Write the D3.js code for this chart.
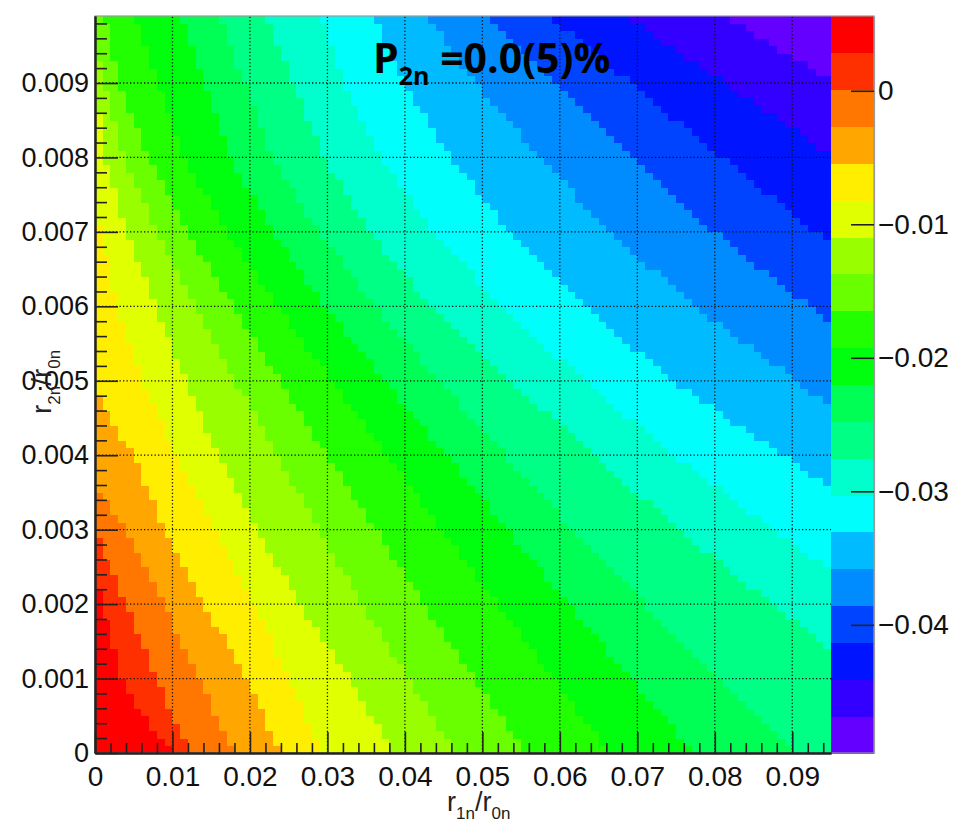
<!DOCTYPE html>
<html>
<head>
<meta charset="utf-8">
<script src="https://cdn.jsdelivr.net/npm/d3@7"></script>
<style>
body { margin: 0; background: #fff; }
svg { display: block; font-family: "Liberation Sans", Arial, sans-serif; }
</style>
</head>
<body>
<svg id="chart" width="955" height="822"></svg>
<script>

// palette range (z) and number of contours, as on the colour bar
var zMin = -0.0496, zMax = 0.0056, nContours = 20;

// histogram binning (r1n/r0n: 95 bins, r2n/r0n: 99 bins)
var xBins = 95, xMax = 0.095;
var yBins = 99, yMax = 0.0099;

var xTicks = [0, 0.01, 0.02, 0.03, 0.04, 0.05, 0.06, 0.07, 0.08, 0.09];
var xTickLabels = ["0", "0.01", "0.02", "0.03", "0.04", "0.05", "0.06", "0.07", "0.08", "0.09"];
var yTicks = [0, 0.001, 0.002, 0.003, 0.004, 0.005, 0.006, 0.007, 0.008, 0.009];
var yTickLabels = ["0", "0.001", "0.002", "0.003", "0.004", "0.005", "0.006", "0.007", "0.008", "0.009"];
var zTicks = [0, -0.01, -0.02, -0.03, -0.04];
var zTickLabels = ["0", "\u22120.01", "\u22120.02", "\u22120.03", "\u22120.04"];

// contour lines [r1n/r0n, r2n/r0n], one per level (c01 = lowest level),
// read off the picture from the upper/left end to the lower/right end
var c01 = [[0.0813, 0.0099], [0.095, 0.00903]];
var c02 = [[0.0684, 0.0099], [0.0813, 0.0090], [0.095, 0.00804]];
var c03 = [[0.0586, 0.0099], [0.0703, 0.0089], [0.081, 0.0080], [0.095, 0.00683]];
var c04 = [[0.0503, 0.0099], [0.060, 0.0089], [0.0692, 0.0080], [0.080, 0.0070], [0.0922, 0.0060], [0.095, 0.00575]];
var c05 = [[0.0427, 0.0099], [0.050, 0.0089], [0.0575, 0.0080], [0.0665, 0.0070], [0.0775, 0.0060], [0.0905, 0.0050], [0.095, 0.00466]];
var c06 = [[0.0359, 0.0099], [0.0403, 0.0089], [0.046, 0.0080], [0.0535, 0.0070], [0.063, 0.0060], [0.0748, 0.0050], [0.0888, 0.0040], [0.095, 0.00358]];
var c07 = [[0.029, 0.0099], [0.0325, 0.0089], [0.037, 0.0080], [0.0438, 0.0070], [0.0525, 0.0060], [0.0632, 0.0050], [0.0747, 0.0040], [0.0877, 0.0030], [0.095, 0.00246]];
var c08 = [[0.0221, 0.0099], [0.0295, 0.0080], [0.0355, 0.0070], [0.0435, 0.0060], [0.0538, 0.0050], [0.0643, 0.0040], [0.0755, 0.0030], [0.0875, 0.0020], [0.095, 0.00138]];
var c09 = [[0.0161, 0.0099], [0.023, 0.0080], [0.029, 0.0070], [0.0362, 0.0060], [0.0445, 0.0050], [0.053, 0.0040], [0.0618, 0.0030], [0.071, 0.0020], [0.0805, 0.0010], [0.0903, 0]];
var c10 = [[0.011, 0.0099], [0.0175, 0.0080], [0.023, 0.0070], [0.0297, 0.0060], [0.0375, 0.0050], [0.0455, 0.0040], [0.0533, 0.0030], [0.0612, 0.0020], [0.0692, 0.0010], [0.0774, 0]];
var c11 = [[0.0053, 0.0099], [0.0115, 0.0080], [0.017, 0.0070], [0.0235, 0.0060], [0.0307, 0.0050], [0.0378, 0.0040], [0.0448, 0.0030], [0.052, 0.0020], [0.0592, 0.0010], [0.0665, 0]];
var c12 = [[0.0014, 0.0099], [0.003, 0.0090], [0.007, 0.0080], [0.012, 0.0070], [0.0178, 0.0060], [0.0239, 0.0050], [0.030, 0.0040], [0.0362, 0.0030], [0.0425, 0.0020], [0.049, 0.0010], [0.0555, 0]];
var c13 = [[0, 0.0096], [0.0012, 0.0090], [0.0038, 0.0080], [0.008, 0.0070], [0.0128, 0.0060], [0.0182, 0.0050], [0.0235, 0.0040], [0.029, 0.0030], [0.0345, 0.0020], [0.0405, 0.0010], [0.0465, 0]];
var c14 = [[0, 0.00905], [0.0012, 0.0080], [0.0042, 0.0070], [0.0078, 0.0060], [0.0117, 0.0050], [0.016, 0.0040], [0.021, 0.0030], [0.0265, 0.0020], [0.0329, 0.0010], [0.0385, 0]];
var c15 = [[0, 0.00734], [0.003, 0.0060], [0.0062, 0.0050], [0.0105, 0.0040], [0.0155, 0.0030], [0.0205, 0.0020], [0.025, 0.0010], [0.0294, 0]];
var c16 = [[0, 0.00484], [0.0049, 0.0040], [0.009, 0.0030], [0.0139, 0.0020], [0.0197, 0.0010], [0.0239, 0]];
var c17 = [[0, 0.00358], [0.004, 0.0030], [0.0088, 0.0020], [0.0135, 0.0010], [0.0178, 0]];
var c18 = [[0, 0.0030], [0.004, 0.0020], [0.0079, 0.0010], [0.0123, 0]];
var c19 = [[0, 0.00246], [0.002, 0.0016], [0.0035, 0.0010], [0.0062, 0.0005], [0.010, 0]];
var contourLines = [c01, c02, c03, c04, c05, c06, c07, c08, c09, c10,
                    c11, c12, c13, c14, c15, c16, c17, c18, c19];

var svg = d3.select("#chart");

var x = d3.scaleLinear().domain([0, xMax]).range([95, 831]);
var y = d3.scaleLinear().domain([0, yMax]).range([753, 16]);
var z = d3.scaleLinear().domain([zMin, zMax]).range([753, 16]);

// old ROOT "pretty" palette (violet -> red, 50 colours) picked for 20 contours
function bandColor(k) {
  var idx = Math.floor((k + 0.99) * 50 / nContours);
  if (idx >= 49) return "rgb(255,0,0)";
  return d3.hsl(280 - (idx + 1) * 5.6, 1, 0.5).toString();
}

// region above each level: the lower-left side of its contour line
var regions = contourLines.map(function (pts) {
  var last = pts[pts.length - 1];
  return [[0, 0], [0, pts[0][1]]].concat(pts, [[last[0], 0]])
    .map(function (p) { return [p[0] / xMax, p[1] / yMax]; });
});

// bins of the histogram, each one coloured by the band it falls in
var bins = [];
d3.range(yBins).forEach(function (j) {
  d3.range(xBins).forEach(function (i) {
    var cx = (i + 0.5) / xBins, cy = (j + 0.5) / yBins;
    var band = 0;
    regions.forEach(function (r) { if (d3.polygonContains(r, [cx, cy])) band++; });
    bins.push({ i: i, j: j, band: band });
  });
});

var bw = xMax / xBins, bh = yMax / yBins;
svg.append("g").attr("shape-rendering", "crispEdges")
  .selectAll("rect").data(bins).enter().append("rect")
  .attr("x", function (d) { return x(d.i * bw); })
  .attr("y", function (d) { return y((d.j + 1) * bh); })
  .attr("width", function (d) { return x((d.i + 1) * bw) - x(d.i * bw) + 0.6; })
  .attr("height", function (d) { return y(d.j * bh) - y((d.j + 1) * bh) + 0.6; })
  .attr("fill", function (d) { return bandColor(d.band); });

// dotted grid
var grid = svg.append("g").attr("stroke", "#111").attr("stroke-width", 1.3)
  .attr("stroke-dasharray", "1.3,2.2");
grid.selectAll(".gx").data(xTicks.slice(1)).enter().append("line")
  .attr("x1", function (d) { return x(d); }).attr("x2", function (d) { return x(d); })
  .attr("y1", y(0)).attr("y2", y(yMax));
grid.selectAll(".gy").data(yTicks.slice(1)).enter().append("line")
  .attr("y1", function (d) { return y(d); }).attr("y2", function (d) { return y(d); })
  .attr("x1", x(0)).attr("x2", x(xMax));

// colour bar
var barX = 831, barW = 43;
var levels = d3.range(nContours + 1).map(function (k) { return zMin + k * (zMax - zMin) / nContours; });
svg.append("g").attr("shape-rendering", "crispEdges")
  .selectAll("rect").data(d3.range(nContours)).enter().append("rect")
  .attr("x", barX).attr("width", barW)
  .attr("y", function (k) { return z(levels[k + 1]); })
  .attr("height", function (k) { return z(levels[k]) - z(levels[k + 1]) + 0.5; })
  .attr("fill", function (k) { return bandColor(k); });

// frame
svg.append("rect").attr("x", 95).attr("y", 16).attr("width", barX + barW - 95).attr("height", 737)
  .attr("fill", "none").attr("stroke", "#9a9a9a").attr("stroke-width", 1.2);

function styleAxis(g, size) {
  g.select(".domain").attr("stroke", "#222").attr("stroke-width", 2);
  g.selectAll(".tick line").attr("stroke", "#222").attr("stroke-width", 1.6);
  g.selectAll("text").attr("fill", "#111").style("font-size", size + "px")
    .style("font-family", "'Liberation Sans', Arial, sans-serif");
}

var xMinor = d3.range(0.002, xMax, 0.002).filter(function (d) { return Math.abs(d * 100 - Math.round(d * 100)) > 1e-6; });
var yMinor = d3.range(0.0002, yMax, 0.0002).filter(function (d) { return Math.abs(d * 1000 - Math.round(d * 1000)) > 1e-6; });

var gx = svg.append("g").attr("transform", "translate(0," + y(0) + ")")
  .call(d3.axisBottom(x).tickValues(xTicks)
    .tickFormat(function (d, i) { return xTickLabels[i]; })
    .tickSize(-21).tickSizeOuter(0).tickPadding(13));
styleAxis(gx, 28);
var gxm = svg.append("g").attr("transform", "translate(0," + y(0) + ")")
  .call(d3.axisBottom(x).tickValues(xMinor).tickFormat("").tickSize(-10).tickSizeOuter(0));
styleAxis(gxm, 28);

var gy = svg.append("g").attr("transform", "translate(" + x(0) + ",0)")
  .call(d3.axisLeft(y).tickValues(yTicks)
    .tickFormat(function (d, i) { return yTickLabels[i]; })
    .tickSize(-23).tickSizeOuter(0).tickPadding(6));
styleAxis(gy, 27);
var gym = svg.append("g").attr("transform", "translate(" + x(0) + ",0)")
  .call(d3.axisLeft(y).tickValues(yMinor).tickFormat("").tickSize(-12).tickSizeOuter(0));
styleAxis(gym, 27);

var gz = svg.append("g").attr("transform", "translate(" + (barX + barW) + ",0)")
  .call(d3.axisRight(z).tickValues(zTicks)
    .tickFormat(function (d, i) { return zTickLabels[i]; })
    .tickSize(-23).tickSizeOuter(0).tickPadding(4));
styleAxis(gz, 28);
gz.select(".domain").attr("stroke", "#9a9a9a").attr("stroke-width", 1.2);

// axis titles
var xt = svg.append("text").attr("x", 447).attr("y", 811)
  .style("font-size", "27px").attr("fill", "#222");
xt.append("tspan").text("r");
xt.append("tspan").attr("dy", 8).style("font-size", "17px").text("1n");
xt.append("tspan").attr("dy", -8).text("/r");
xt.append("tspan").attr("dy", 8).style("font-size", "17px").text("0n");

var yt = svg.append("text").attr("transform", "translate(51,414) rotate(-90)")
  .style("font-size", "28px").attr("fill", "#222");
yt.append("tspan").text("r");
yt.append("tspan").attr("dy", 9).style("font-size", "17px").text("2n");
yt.append("tspan").attr("dy", -9).text("/r");
yt.append("tspan").attr("dy", 9).style("font-size", "17px").text("0n");

// label
var lab = svg.append("text").attr("x", 373).attr("y", 73)
  .style("font-family", "'Open Sans', sans-serif").style("font-weight", 700)
  .style("font-size", "41px").attr("fill", "#000");
lab.append("tspan").text("P");
lab.append("tspan").attr("dy", 12).style("font-size", "25px").text("2n");
lab.append("tspan").attr("dy", -12).text(" =0.0(5)%");

</script>
</body>
</html>
